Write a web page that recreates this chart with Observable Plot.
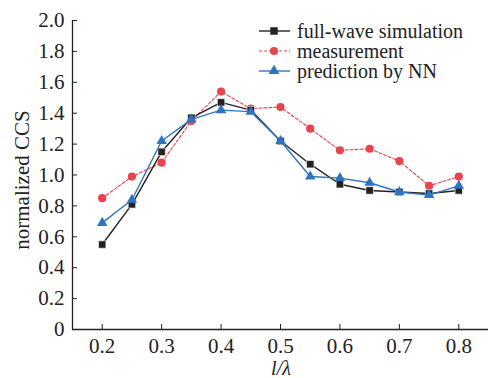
<!DOCTYPE html>
<html>
<head>
<meta charset="utf-8">
<script src="https://cdn.jsdelivr.net/npm/d3@7"></script>
<script src="https://cdn.jsdelivr.net/npm/@observablehq/plot@0.6"></script>
<style>
  html, body { margin: 0; padding: 0; background: #fff; }
  #chart { position: relative; width: 491px; height: 378px; }
  #legend { position: absolute; left: 255px; top: 19px; }
  svg text { font-family: "Liberation Serif", "Times New Roman", serif; }
</style>
</head>
<body>
<div id="chart"><svg id="legend" width="236" height="66"></svg></div>
<script>
// l/λ sample positions
const ratios = [0.2, 0.25, 0.3, 0.35, 0.4, 0.45, 0.5, 0.55, 0.6, 0.65, 0.7, 0.75, 0.8];
// normalized CCS per series
const fullWave   = [0.55, 0.81, 1.15, 1.37, 1.47, 1.42, 1.22, 1.07, 0.94, 0.90, 0.89, 0.88, 0.90];
const measured   = [0.85, 0.99, 1.08, 1.35, 1.54, 1.43, 1.44, 1.30, 1.16, 1.17, 1.09, 0.93, 0.99];
const predicted  = [0.69, 0.84, 1.22, 1.36, 1.42, 1.41, 1.22, 0.99, 0.98, 0.95, 0.89, 0.87, 0.93];
const xTicks = [0.2, 0.3, 0.4, 0.5, 0.6, 0.7, 0.8];
const yTicks = [0, 0.2, 0.4, 0.6, 0.8, 1.0, 1.2, 1.4, 1.6, 1.8, 2.0];

const seriesNames = ["full-wave simulation", "measurement", "prediction by NN"];
const seriesColors = ["#222222", "#e8434f", "#2f74c1"];

const rows = (vals, name) => ratios.map((r, i) => ({x: r, y: vals[i], name}));
const sim = rows(fullWave, seriesNames[0]);
const meas = rows(measured, seriesNames[1]);
const pred = rows(predicted, seriesNames[2]);

const font = `"Liberation Serif", "Times New Roman", serif`;
const fs = 21;

const chart = Plot.plot({
  width: 491,
  height: 378,
  marginLeft: 72,
  marginRight: 3,
  marginTop: 20,
  marginBottom: 49,
  style: {fontFamily: font, fontSize: `${fs}px`, color: "#222", background: "#fff"},
  x: {domain: [0.15, 0.85]},
  y: {domain: [0, 2]},
  marks: [
    // inward tick marks
    Plot.axisX(xTicks, {tickSize: -5, tickFormat: () => "", label: null, stroke: "#222"}),
    Plot.axisY(yTicks, {tickSize: -5, tickFormat: () => "", label: null, stroke: "#222"}),
    // tick labels
    Plot.axisX(xTicks, {tickSize: 0, tickPadding: 9, tickFormat: d => d.toFixed(1), label: null, fontSize: fs, fill: "#222"}),
    Plot.axisY(yTicks, {tickSize: 0, tickPadding: 8, tickFormat: d => d === 0 ? "0" : d.toFixed(1), label: null, fontSize: fs, fill: "#222"}),
    Plot.ruleY([0], {stroke: "#222", strokeWidth: 1.3}),
    Plot.ruleX([0.15], {stroke: "#222", strokeWidth: 1.3}),
    // series
    Plot.line(meas, {x: "x", y: "y", stroke: seriesColors[1], strokeWidth: 1.1, strokeDasharray: "3,2"}),
    Plot.dot(meas, {x: "x", y: "y", fill: seriesColors[1], r: 4.1, symbol: "circle"}),
    Plot.line(sim, {x: "x", y: "y", stroke: seriesColors[0], strokeWidth: 1.4}),
    Plot.dot(sim, {x: "x", y: "y", fill: seriesColors[0], stroke: "#fff", strokeWidth: 0.6, r: 4.2, symbol: "square"}),
    Plot.line(pred, {x: "x", y: "y", stroke: seriesColors[2], strokeWidth: 1.4}),
    Plot.dot(pred, {x: "x", y: "y", fill: seriesColors[2], r: 3.9, symbol: "triangle"})
  ]
});

const svg = d3.select(chart);
// axis titles
svg.append("text")
  .attr("transform", "translate(24,180) rotate(-90)")
  .attr("text-anchor", "middle")
  .attr("dominant-baseline", "middle")
  .attr("font-size", fs).attr("fill", "#222")
  .text("normalized CCS");
svg.append("text")
  .attr("x", 281).attr("y", 375)
  .attr("text-anchor", "middle")
  .attr("font-size", fs - 1).attr("fill", "#222")
  .attr("font-style", "italic")
  .text("l/λ");

document.getElementById("chart").prepend(chart);

// legend
const leg = d3.select("#legend");
const symbols = [d3.symbolSquare, d3.symbolCircle, d3.symbolTriangle];
const symSize = [56, 52, 50];
seriesNames.forEach((name, i) => {
  const g = leg.append("g").attr("transform", `translate(0,${12 + i * 20})`);
  g.append("line").attr("x1", 4).attr("x2", 35).attr("y1", 0).attr("y2", 0)
    .attr("stroke", seriesColors[i]).attr("stroke-width", i === 1 ? 1.1 : 1.4)
    .attr("stroke-dasharray", i === 1 ? "3,2" : null);
  g.append("path").attr("d", d3.symbol(symbols[i], symSize[i])())
    .attr("transform", "translate(19,0)").attr("fill", seriesColors[i]);
  g.append("text").attr("x", 42).attr("y", 0).attr("dy", "0.33em")
    .attr("font-size", fs - 1).attr("fill", "#222").text(name);
});
</script>
</body>
</html>
